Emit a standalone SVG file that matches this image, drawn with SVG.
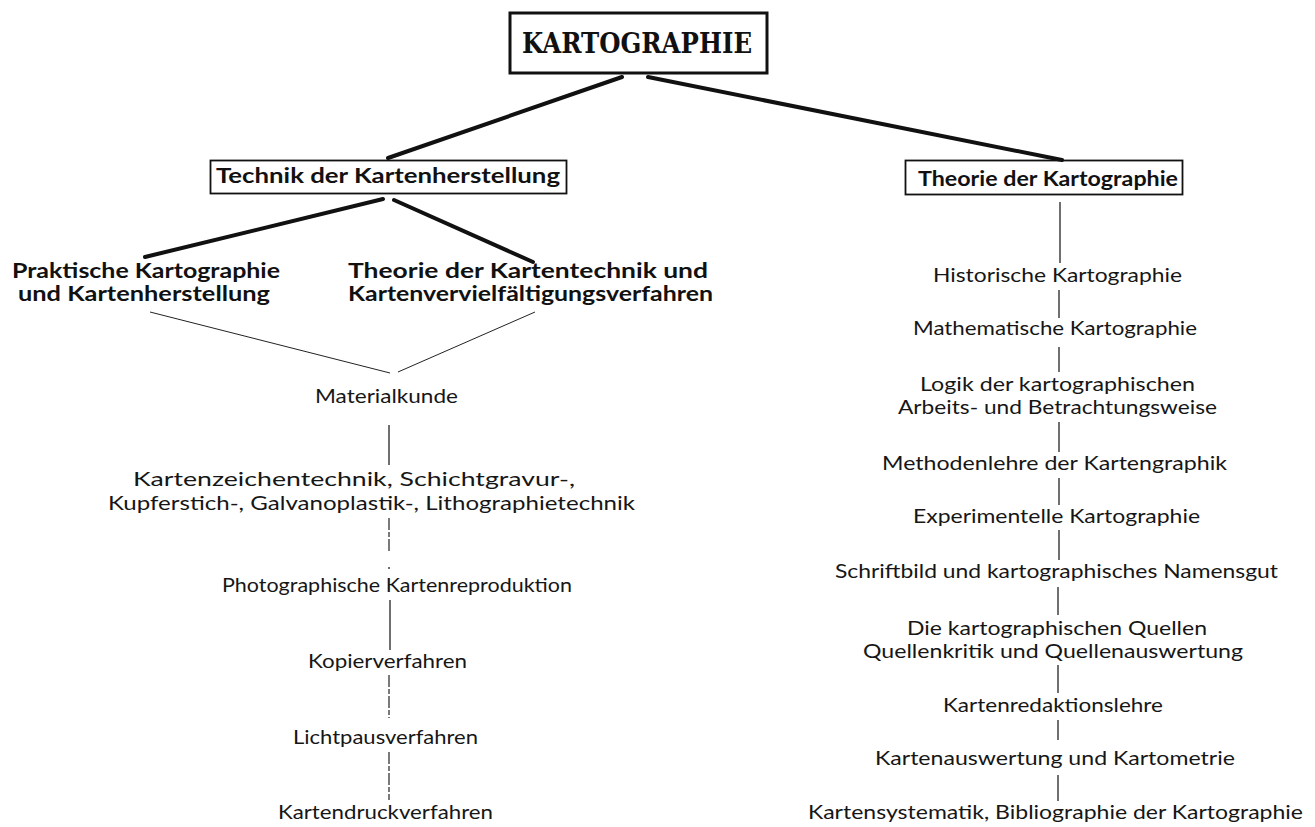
<svg xmlns="http://www.w3.org/2000/svg" width="1315" height="827" viewBox="0 0 1315 827">
  <style>
    .bg { fill: #ffffff; }
    .t { font-family: Lato, "Open Sans", "Liberation Sans", sans-serif; font-size: 20px; fill: #161616; }
    .b { font-family: Lato, "Open Sans", "Liberation Sans", sans-serif; font-size: 21px; font-weight: bold; fill: #111111; }
    .title { font-family: "DejaVu Serif", "Liberation Serif", serif; font-size: 27px; font-weight: bold; fill: #111111; }
    .box { fill: none; stroke: #111111; }
    .thick { stroke: #111111; stroke-width: 4; stroke-linecap: round; fill: none; }
    .thin { stroke: #222222; stroke-width: 1; fill: none; }
    .v { stroke: #222222; stroke-width: 1.3; fill: none; }
    .dash { stroke: #222222; stroke-width: 1.2; fill: none; stroke-dasharray: 12 2 5 2; }
  </style>
  <rect class="bg" x="0" y="0" width="1315" height="827"/>

  <!-- connectors -->
  <g id="connectors">
    <line class="thick" x1="622" y1="77" x2="388" y2="158"/>
    <line class="thick" x1="648" y1="77" x2="1062" y2="160"/>
    <line class="thick" x1="383" y1="199" x2="145" y2="257" stroke-width="3.5"/>
    <line class="thick" x1="394" y1="200" x2="533" y2="262" stroke-width="3.5"/>
    <line class="thin" x1="150" y1="312" x2="390" y2="373"/>
    <line class="thin" x1="535" y1="312" x2="398" y2="372"/>
    <!-- left chain -->
    <line class="v" x1="389" y1="425" x2="389" y2="465"/>
    <line class="dash" x1="389" y1="518" x2="389" y2="552"/>
    <line class="v" x1="389" y1="567" x2="389" y2="569"/>
    <line class="v" x1="390" y1="600" x2="390" y2="650"/>
    <line class="dash" x1="389" y1="675" x2="389" y2="718"/>
    <line class="dash" x1="389" y1="752" x2="389" y2="800"/>
    <!-- right chain -->
    <line class="v" x1="1060" y1="202" x2="1060" y2="263"/>
    <line class="v" x1="1059" y1="290" x2="1059" y2="318"/>
    <line class="v" x1="1059" y1="347" x2="1059" y2="372"/>
    <line class="v" x1="1059" y1="422" x2="1059" y2="452"/>
    <line class="v" x1="1059" y1="478" x2="1059" y2="505"/>
    <line class="v" x1="1059" y1="530" x2="1059" y2="560"/>
    <line class="v" x1="1058" y1="587" x2="1058" y2="615"/>
    <line class="v" x1="1058" y1="665" x2="1058" y2="693"/>
    <line class="v" x1="1058" y1="720" x2="1058" y2="740"/>
    <line class="v" x1="1058" y1="775" x2="1058" y2="801"/>
  </g>

  <!-- root -->
  <g id="kartographie">
    <rect class="box" x="510" y="13" width="257" height="60" stroke-width="3"/>
    <text class="title" x="522" y="53" textLength="230" lengthAdjust="spacingAndGlyphs">KARTOGRAPHIE</text>
  </g>

  <!-- branch: technique -->
  <g id="technik">
    <rect class="box" x="210.5" y="160.5" width="356" height="33" stroke-width="1.8"/>
    <text class="b" x="216" y="183" textLength="344" lengthAdjust="spacingAndGlyphs">Technik der Kartenherstellung</text>
  </g>

  <g id="praktische">
    <text class="b" x="12" y="278" textLength="268" lengthAdjust="spacingAndGlyphs">Praktische Kartographie</text>
    <text class="b" x="18" y="301" textLength="252" lengthAdjust="spacingAndGlyphs">und Kartenherstellung</text>
  </g>

  <g id="theorie-kartentechnik">
    <text class="b" x="348" y="278" textLength="360" lengthAdjust="spacingAndGlyphs">Theorie der Kartentechnik und</text>
    <text class="b" x="348" y="301" textLength="365" lengthAdjust="spacingAndGlyphs">Kartenvervielfältigungsverfahren</text>
  </g>

  <g id="materialkunde">
    <text class="t" x="315" y="403" textLength="143" lengthAdjust="spacingAndGlyphs">Materialkunde</text>
  </g>
  <g id="kartenzeichentechnik">
    <text class="t" x="133" y="486" textLength="442" lengthAdjust="spacingAndGlyphs">Kartenzeichentechnik, Schichtgravur-,</text>
    <text class="t" x="108" y="510" textLength="527" lengthAdjust="spacingAndGlyphs">Kupferstich-, Galvanoplastik-, Lithographietechnik</text>
  </g>
  <g id="photographische">
    <text class="t" x="222" y="592" textLength="350" lengthAdjust="spacingAndGlyphs">Photographische Kartenreproduktion</text>
  </g>
  <g id="kopierverfahren">
    <text class="t" x="308" y="668" textLength="159" lengthAdjust="spacingAndGlyphs">Kopierverfahren</text>
  </g>
  <g id="lichtpausverfahren">
    <text class="t" x="293" y="744" textLength="185" lengthAdjust="spacingAndGlyphs">Lichtpausverfahren</text>
  </g>
  <g id="kartendruckverfahren">
    <text class="t" x="278" y="819" textLength="215" lengthAdjust="spacingAndGlyphs">Kartendruckverfahren</text>
  </g>

  <!-- branch: theory -->
  <g id="theorie">
    <rect class="box" x="905.5" y="160.5" width="277" height="34" stroke-width="1.8"/>
    <text class="b" x="918" y="186" textLength="260" lengthAdjust="spacingAndGlyphs">Theorie der Kartographie</text>
  </g>
  <g id="historische">
    <text class="t" x="933" y="282" textLength="249" lengthAdjust="spacingAndGlyphs">Historische Kartographie</text>
  </g>
  <g id="mathematische">
    <text class="t" x="913" y="335" textLength="284" lengthAdjust="spacingAndGlyphs">Mathematische Kartographie</text>
  </g>
  <g id="logik">
    <text class="t" x="920" y="391" textLength="275" lengthAdjust="spacingAndGlyphs">Logik der kartographischen</text>
    <text class="t" x="898" y="414" textLength="319" lengthAdjust="spacingAndGlyphs">Arbeits- und Betrachtungsweise</text>
  </g>
  <g id="methodenlehre">
    <text class="t" x="882" y="470" textLength="345" lengthAdjust="spacingAndGlyphs">Methodenlehre der Kartengraphik</text>
  </g>
  <g id="experimentelle">
    <text class="t" x="913" y="523" textLength="287" lengthAdjust="spacingAndGlyphs">Experimentelle Kartographie</text>
  </g>
  <g id="schriftbild">
    <text class="t" x="835" y="578" textLength="443" lengthAdjust="spacingAndGlyphs">Schriftbild und kartographisches Namensgut</text>
  </g>
  <g id="quellen">
    <text class="t" x="907" y="635" textLength="300" lengthAdjust="spacingAndGlyphs">Die kartographischen Quellen</text>
    <text class="t" x="863" y="658" textLength="380" lengthAdjust="spacingAndGlyphs">Quellenkritik und Quellenauswertung</text>
  </g>
  <g id="redaktion">
    <text class="t" x="943" y="712" textLength="220" lengthAdjust="spacingAndGlyphs">Kartenredaktionslehre</text>
  </g>
  <g id="auswertung">
    <text class="t" x="875" y="765" textLength="360" lengthAdjust="spacingAndGlyphs">Kartenauswertung und Kartometrie</text>
  </g>
  <g id="systematik">
    <text class="t" x="808" y="819" textLength="495" lengthAdjust="spacingAndGlyphs">Kartensystematik, Bibliographie der Kartographie</text>
  </g>
</svg>
